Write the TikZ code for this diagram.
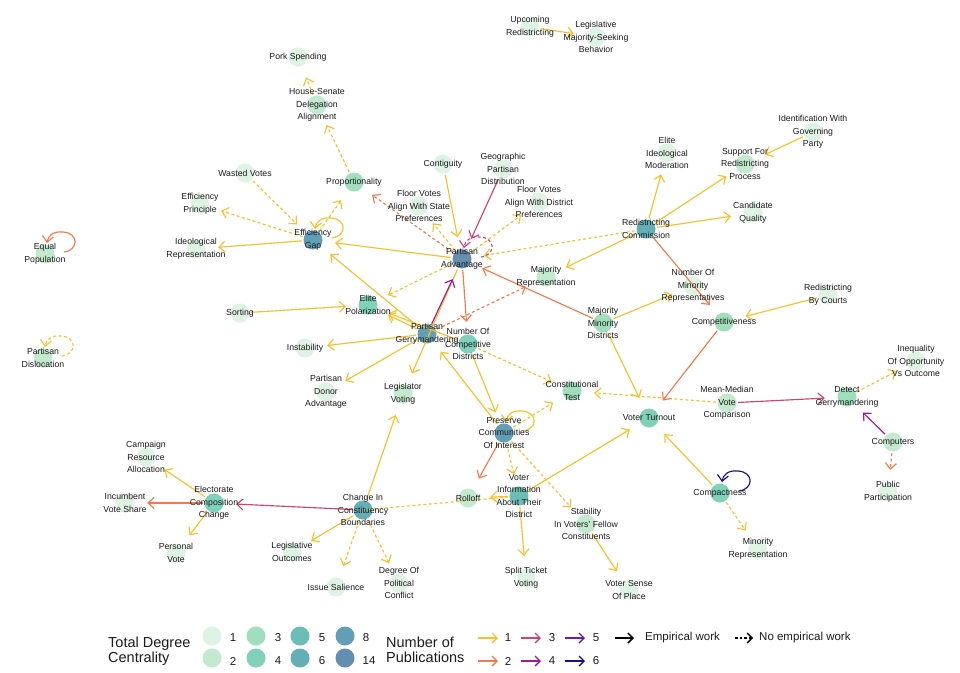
\documentclass[tikz,border=0pt]{standalone}
\usepackage{fontspec}
\setmainfont{Liberation Sans}
\usetikzlibrary{arrows.meta}
\definecolor{dA}{HTML}{DFF3E4}
\definecolor{dB}{HTML}{C3E9CF}
\definecolor{dC}{HTML}{A1DEBC}
\definecolor{dD}{HTML}{7FD1B9}
\definecolor{dE}{HTML}{6CBDB6}
\definecolor{dF}{HTML}{64AEB6}
\definecolor{dH}{HTML}{629EB6}
\definecolor{dN}{HTML}{638EB0}
\definecolor{eA}{HTML}{FAC02A}
\definecolor{eB}{HTML}{F37A4A}
\definecolor{eC}{HTML}{CD4673}
\definecolor{eD}{HTML}{9E1A9C}
\definecolor{eE}{HTML}{6A1CB0}
\definecolor{eF}{HTML}{1B0F85}
\definecolor{txt}{HTML}{1C1C1C}
\tikzset{
  nd/.style={circle, minimum size=19pt, inner sep=0pt, fill=#1, draw=none},
  lb/.style={font=\fontsize{8.7}{12.6}\selectfont, align=center, text=txt, inner sep=0pt},
  ed/.style={line width=1.15pt, draw=#1, -{Straight Barb[length=6pt,width=11pt]}, shorten >=12.5pt, shorten <=1.5pt},
  edd/.style={ed=#1, dash pattern=on 3pt off 2.5pt},
  lp/.style={line width=1.15pt, draw=#1, -{Straight Barb[length=6pt,width=11pt]}},
  lpd/.style={lp=#1, dash pattern=on 3pt off 2.5pt},
  lgt/.style={font=\fontsize{14.5}{16}\selectfont, text=txt, inner sep=0pt, anchor=base west},
  lgn/.style={font=\fontsize{11.5}{13}\selectfont, text=txt, inner sep=0pt},
  lgs/.style={font=\fontsize{11.5}{13}\selectfont, text=txt, inner sep=0pt, anchor=west},
  la/.style={line width=1.3pt, draw=#1, -{Straight Barb[length=5pt,width=10pt]}},
}
\newcommand{\myloop}[2]{\draw[#1] ([shift={(19,-2)}]#2.center) .. controls ([shift={(34,-4)}]#2.center) and ([shift={(34,-21)}]#2.center) .. ([shift={(18,-22)}]#2.center) .. controls ([shift={(8,-23)}]#2.center) and ([shift={(3,-18)}]#2.center) .. ([shift={(2,-11)}]#2.center);}
\begin{document}
\begin{tikzpicture}[x=1pt,y=-1pt]
\fill[white] (0,0) rectangle (960,672);
\path[use as bounding box] (0,0) rectangle (960,672);
% nodes (circles)
\node[nd=dA] (ur) at (530,27) {};
\node[nd=dA] (lm) at (596,37) {};
\node[nd=dA] (pork) at (298,57) {};
\node[nd=dB] (hs) at (317,105) {};
\node[nd=dC] (prop) at (354,182) {};
\node[nd=dA] (cont) at (443,164) {};
\node[nd=dA] (geo) at (503,169) {};
\node[nd=dA] (fvs) at (419,206) {};
\node[nd=dA] (fvd) at (539,202) {};
\node[nd=dA] (wv) at (245,173) {};
\node[nd=dA] (ep) at (200,204) {};
\node[nd=dA] (ir) at (196,249) {};
\node[nd=dH] (eg) at (313,240) {};
\node[nd=dB] (eqp) at (45,254) {};
\node[nd=dB] (pd) at (43,358) {};
\node[nd=dN] (pa) at (462,259) {};
\node[nd=dD] (elp) at (368,305) {};
\node[nd=dA] (sort) at (240,313) {};
\node[nd=dH] (pg) at (427,334) {};
\node[nd=dD] (ncd) at (468,344) {};
\node[nd=dA] (inst) at (305,348) {};
\node[nd=dA] (pda) at (326,392) {};
\node[nd=dB] (lv) at (403,394) {};
\node[nd=dC] (ct) at (572,391) {};
\node[nd=dH] (pc) at (504,433) {};
\node[nd=dE] (vi) at (519,496) {};
\node[nd=dB] (roll) at (468,498) {};
\node[nd=dA] (stv) at (526,578) {};
\node[nd=dB] (stab) at (586,524) {};
\node[nd=dA] (vsp) at (629,590) {};
\node[nd=dD] (vt) at (649,418) {};
\node[nd=dC] (mmd) at (603,323) {};
\node[nd=dB] (mr) at (546,277) {};
\node[nd=dA] (nmr) at (693,286) {};
\node[nd=dF] (rc) at (646,229) {};
\node[nd=dA] (eim) at (667,153) {};
\node[nd=dB] (srp) at (745,164) {};
\node[nd=dA] (igp) at (813,132) {};
\node[nd=dA] (cq) at (753,213) {};
\node[nd=dC] (comp) at (724,322) {};
\node[nd=dA] (rbc) at (828,295) {};
\node[nd=dB] (mm) at (727,403) {};
\node[nd=dC] (dg) at (847,397) {};
\node[nd=dA] (ioo) at (916,361) {};
\node[nd=dB] (cmp) at (893,442) {};
\node[nd=dA] (pp) at (888,492) {};
\node[nd=dD] (cpt) at (720,493) {};
\node[nd=dA] (minr) at (758,549) {};
\node[nd=dF] (ccb) at (363,510) {};
\node[nd=dD] (ecc) at (214,503) {};
\node[nd=dA] (cra) at (146,457) {};
\node[nd=dA] (ivs) at (125,503) {};
\node[nd=dA] (pv) at (176,553) {};
\node[nd=dA] (lo) at (292,552) {};
\node[nd=dA] (is) at (336,587) {};
\node[nd=dA] (dpc) at (399,583) {};
% edges
\draw[ed=eA] (ur) -- (lm);
\draw[edd=eA] (hs) -- (pork);
\draw[edd=eA] (prop) -- (hs);
\draw[edd=eA] (wv) -- (eg);
\draw[edd=eA] (eg) -- (ep);
\draw[ed=eA] (eg) -- (ir);
\draw[edd=eA] (eg) -- (prop);
\draw[ed=eA] (pa) -- (eg);
\draw[ed=eA] (pg) -- (eg);
\draw[edd=eB] (pa) -- (prop);
\draw[edd=eA] (pa) -- (fvs);
\draw[ed=eA] (cont) -- (pa);
\draw[ed=eC] (geo) -- (pa);
\draw[edd=eA] (pa) -- (fvd);
\draw[edd=eA] (rc) -- (pa);
\draw[edd=eA] (pa) -- (elp);
\draw[ed=eB] (pa) -- (ncd);
\draw[ed=eB] (mmd) -- (pa);
\draw[ed=eA] (pa) -- (lv);
\draw[ed=eD] (pg) -- (pa);
\draw[ed=eA] (pg) -- (elp);
\draw[ed=eA] (ncd) -- (elp);
\draw[ed=eA] (pg) -- (inst);
\draw[ed=eA] (pg) -- (pda);
\draw[ed=eA] (sort) -- (elp);
\draw[edd=eB] (pg) -- (mr);
\draw[edd=eA] (ncd) -- (ct);
\draw[ed=eA] (ncd) -- (pc);
\draw[ed=eA] (pc) -- (pg);
\draw[edd=eA] (pc) -- (ct);
\draw[ed=eB] (pc) -- (roll);
\draw[edd=eA] (pc) -- (vi);
\draw[edd=eA] (pc) -- (stab);
\draw[edd=eA, -, shorten >=0pt, shorten <=0pt] (ccb.center) -- (vi);
\draw[ed=eA] (vi) -- (roll);
\draw[ed=eA] (vi) -- (stv);
\draw[ed=eA] (vi) -- (vt);
\draw[edd=eA] (mm) -- (ct);
\draw[ed=eA] (mmd) -- (vt);
\draw[ed=eB] (comp) -- (vt);
\draw[ed=eA] (cpt) -- (vt);
\draw[edd=eA] (cpt) -- (minr);
\draw[ed=eA] (mmd) -- (nmr);
\draw[ed=eB] (rc) -- (comp);
\draw[ed=eA] (rc) -- (mr);
\draw[ed=eA] (rc) -- (eim);
\draw[ed=eA] (rc) -- (srp);
\draw[ed=eA] (rc) -- (cq);
\draw[ed=eA] (igp) -- (srp);
\draw[ed=eA] (rbc) -- (comp);
\draw[ed=eC] (mm) -- (dg);
\draw[edd=eA] (dg) -- (ioo);
\draw[ed=eD] (cmp) -- (dg);
\draw[edd=eB] (cmp) -- (pp);
\draw[ed=eA] (ccb) -- (lv);
\draw[ed=eC] (ccb) -- (ecc);
\draw[ed=eA] (ccb) -- (lo);
\draw[edd=eA] (ccb) -- (is);
\draw[edd=eA] (ccb) -- (dpc);
\draw[ed=eA] (ecc) -- (cra);
\draw[ed=eB] (ecc) -- (ivs);
\draw[ed=eA] (ecc) -- (pv);
\draw[ed=eA] (stab) -- (vsp);
% self loops
\myloop{lp=eA}{eg}
\myloop{lpd=eC}{pa}
\myloop{lp=eA}{pc}
\myloop{lp=eF}{cpt}
\myloop{lp=eB}{eqp}
\myloop{lpd=eA}{pd}
% labels
\node[lb] at (ur) {Upcoming\\Redistricting};
\node[lb] at (lm) {Legislative\\Majority-Seeking\\Behavior};
\node[lb] at (pork) {Pork Spending};
\node[lb] at (hs) {House-Senate\\Delegation\\Alignment};
\node[lb] at (prop) {Proportionality};
\node[lb] at (cont) {Contiguity};
\node[lb] at (geo) {Geographic\\Partisan\\Distribution};
\node[lb] at (fvs) {Floor Votes\\Align With State\\Preferences};
\node[lb] at (fvd) {Floor Votes\\Align With District\\Preferences};
\node[lb] at (wv) {Wasted Votes};
\node[lb] at (ep) {Efficiency\\Principle};
\node[lb] at (ir) {Ideological\\Representation};
\node[lb] at (eg) {Efficiency\\Gap};
\node[lb] at (eqp) {Equal\\Population};
\node[lb] at (pd) {Partisan\\Dislocation};
\node[lb] at (pa) {Partisan\\Advantage};
\node[lb] at (elp) {Elite\\Polarization};
\node[lb] at (sort) {Sorting};
\node[lb] at (pg) {Partisan\\Gerrymandering};
\node[lb] at (ncd) {Number Of\\Competitive\\Districts};
\node[lb] at (inst) {Instability};
\node[lb] at (pda) {Partisan\\Donor\\Advantage};
\node[lb] at (lv) {Legislator\\Voting};
\node[lb] at (ct) {Constitutional\\Test};
\node[lb] at (pc) {Preserve\\Communities\\Of Interest};
\node[lb] at (vi) {Voter\\Information\\About Their\\District};
\node[lb] at (roll) {Rolloff};
\node[lb] at (stv) {Split Ticket\\Voting};
\node[lb] at (stab) {Stability\\In Voters' Fellow\\Constituents};
\node[lb] at (vsp) {Voter Sense\\Of Place};
\node[lb] at (vt) {Voter Turnout};
\node[lb] at (mmd) {Majority\\Minority\\Districts};
\node[lb] at (mr) {Majority\\Representation};
\node[lb] at (nmr) {Number Of\\Minority\\Representatives};
\node[lb] at (rc) {Redistricting\\Commission};
\node[lb] at (eim) {Elite\\Ideological\\Moderation};
\node[lb] at (srp) {Support For\\Redistricting\\Process};
\node[lb] at (igp) {Identification With\\Governing\\Party};
\node[lb] at (cq) {Candidate\\Quality};
\node[lb] at (comp) {Competitiveness};
\node[lb] at (rbc) {Redistricting\\By Courts};
\node[lb] at (mm) {Mean-Median\\Vote\\Comparison};
\node[lb] at (dg) {Detect\\Gerrymandering};
\node[lb] at (ioo) {Inequality\\Of Opportunity\\Vs Outcome};
\node[lb] at (cmp) {Computers};
\node[lb] at (pp) {Public\\Participation};
\node[lb] at (cpt) {Compactness};
\node[lb] at (minr) {Minority\\Representation};
\node[lb] at (ccb) {Change In\\Constituency\\Boundaries};
\node[lb] at (ecc) {Electorate\\Composition\\Change};
\node[lb] at (cra) {Campaign\\Resource\\Allocation};
\node[lb] at (ivs) {Incumbent\\Vote Share};
\node[lb] at (pv) {Personal\\Vote};
\node[lb] at (lo) {Legislative\\Outcomes};
\node[lb] at (is) {Issue Salience};
\node[lb] at (dpc) {Degree Of\\Political\\Conflict};
% legend: degree
\node[lgt] (tdc1) at (108,647) {Total Degree};
\node[lgt] (tdc2) at (108,662.5) {Centrality};
\node[nd=dA] (k1) at (212,636) {};
\node[nd=dB] (k2) at (212,658) {};
\node[nd=dC] (k3) at (256,636) {};
\node[nd=dD] (k4) at (256,658) {};
\node[nd=dE] (k5) at (300,636) {};
\node[nd=dF] (k6) at (300,658) {};
\node[nd=dH] (k8) at (345,636) {};
\node[nd=dN] (k14) at (345,658) {};
\node[lgn] (n1) at (233,637.5) {1};
\node[lgn] (n2) at (233,661) {2};
\node[lgn] (n3) at (278,637.5) {3};
\node[lgn] (n4) at (278,661) {4};
\node[lgn] (n5) at (322,637.5) {5};
\node[lgn] (n6) at (322,661) {6};
\node[lgn] (n8) at (366,637.5) {8};
\node[lgn] (n14) at (369,661) {14};
% legend: publications
\node[lgt] (np1) at (386,647) {Number of};
\node[lgt] (np2) at (386,662.5) {Publications};
\coordinate (p1s) at (478,638); \coordinate (p1e) at (498,638);
\coordinate (p3s) at (521,638); \coordinate (p3e) at (541,638);
\coordinate (p5s) at (565,638); \coordinate (p5e) at (585,638);
\coordinate (p2s) at (478,661); \coordinate (p2e) at (498,661);
\coordinate (p4s) at (521,661); \coordinate (p4e) at (541,661);
\coordinate (p6s) at (565,661); \coordinate (p6e) at (585,661);
\draw[la=eA] (p1s) -- (p1e);
\draw[la=eC] (p3s) -- (p3e);
\draw[la=eE] (p5s) -- (p5e);
\draw[la=eB] (p2s) -- (p2e);
\draw[la=eD] (p4s) -- (p4e);
\draw[la=eF] (p6s) -- (p6e);
\node[lgn] (q1) at (508,637.5) {1};
\node[lgn] (q3) at (552,637.5) {3};
\node[lgn] (q5) at (596,637.5) {5};
\node[lgn] (q2) at (508,661) {2};
\node[lgn] (q4) at (552,661) {4};
\node[lgn] (q6) at (596,661) {6};
% legend: line type
\coordinate (ews) at (615,638); \coordinate (ewe) at (634,638);
\coordinate (nws) at (735,638); \coordinate (nwe) at (753,638);
\draw[la=black, line width=1.5pt] (ews) -- (ewe);
\draw[la=black, dash pattern=on 2.5pt off 2pt] (nws) -- (nwe);
\node[lgs] (ewt) at (645,638) {Empirical work};
\node[lgs] (nwt) at (759,638) {No empirical work};
\end{tikzpicture}
\end{document}
